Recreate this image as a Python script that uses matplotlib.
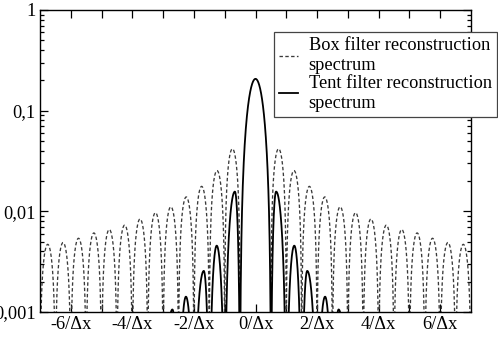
import matplotlib
matplotlib.use("Agg")
import matplotlib.pyplot as plt
import numpy as np
from matplotlib.ticker import FixedLocator, FixedFormatter, LogLocator, NullFormatter

# Box filter spectrum: lobes between zeros every 0.5/dx, peak heights
box_zeros_left = [0.5, 1.0, 1.5, 2.0, 2.5, 3.0, 3.5, 4.0, 4.5, 5.0, 5.5, 6.0, 6.5]
box_peak_x = [0.75, 1.25, 1.75, 2.25, 2.75, 3.25, 3.75, 4.25, 4.75, 5.25, 5.75, 6.25, 6.75]
box_peak_y = [0.0418, 0.0254, 0.0177, 0.0139, 0.0111, 0.0097, 0.0084,
              0.0073, 0.0066, 0.0061, 0.0054, 0.0049, 0.0047]

# Tent filter spectrum: main lobe + side lobes (left zero, peak x, right zero, peak y)
tent_main_peak = 0.207
tent_main_zero = 0.51
tent_left = [0.5, 1.0, 1.5, 2.0, 2.5]
tent_peak_x = [0.67, 1.26, 1.68, 2.26, 2.70]
tent_right = [1.0, 1.5, 2.0, 2.5, 3.0]
tent_peak_y = [0.0157, 0.00456, 0.00256, 0.00142, 0.00106]

tick_vals = [-6, -4, -2, 0, 2, 4, 6]
tick_labels = ["-6/Δx", "-4/Δx", "-2/Δx", "0/Δx", "2/Δx", "4/Δx", "6/Δx"]
ytick_vals = [0.001, 0.01, 0.1, 1]
ytick_labels = ["0,001", "0,01", "0,1", "1"]


def lobe(a, c, b, p, power, n=200):
    # arch between zeros a and b with its top at (c, p)
    x = np.linspace(a, b, n)
    t = np.where(x < c, 0.5 * (x - a) / (c - a), 0.5 + 0.5 * (x - c) / (b - c))
    return x, p * np.sin(np.pi * t) ** power


# build box curve
box_lobes = [(a, c, a + 0.5, p) for a, c, p in zip(box_zeros_left, box_peak_x, box_peak_y)]
bx, by = [], []
for a, c, b, p in box_lobes[::-1]:
    x, y = lobe(-b, -c, -a, p, 1)
    bx.append(x); by.append(y)
bx.append([np.nan]); by.append([np.nan])
for a, c, b, p in box_lobes:
    x, y = lobe(a, c, b, p, 1)
    bx.append(x); by.append(y)
bx = np.concatenate(bx); by = np.concatenate(by)

# build tent curve
tent_lobes = list(zip(tent_left, tent_peak_x, tent_right, tent_peak_y))
tx, ty = [], []
for a, c, b, p in tent_lobes[::-1]:
    x, y = lobe(-b, -c, -a, p, 2)
    tx.append(x); ty.append(y)
x, y = lobe(-tent_main_zero, 0.0, tent_main_zero, tent_main_peak, 2)
tx.append(x); ty.append(y)
for a, c, b, p in tent_lobes:
    x, y = lobe(a, c, b, p, 2)
    tx.append(x); ty.append(y)
tx = np.concatenate(tx); ty = np.concatenate(ty)

plt.rcParams['font.family'] = ['Liberation Serif', 'DejaVu Serif']

fig = plt.figure(figsize=(4.98, 3.37), dpi=100)
ax = fig.add_axes([40 / 498, 1 - 312 / 337, 431 / 498, 302 / 337])

ax.plot(bx, by, color='#3a3a3a', lw=0.95, dashes=[2.6, 1.8],
        label="Box filter reconstruction\nspectrum")
ax.plot(tx, ty, color='black', lw=1.3,
        label="Tent filter reconstruction\nspectrum")

ax.set_yscale('log')
ax.set_xlim(-7, 7)
ax.set_ylim(0.001, 1)

ax.xaxis.set_major_locator(FixedLocator(tick_vals))
ax.xaxis.set_major_formatter(FixedFormatter(tick_labels))
ax.xaxis.set_minor_locator(FixedLocator([-5, -3, -1, 1, 3, 5]))
ax.yaxis.set_major_locator(FixedLocator(ytick_vals))
ax.yaxis.set_major_formatter(FixedFormatter(ytick_labels))
ax.yaxis.set_minor_locator(LogLocator(base=10, subs=np.arange(2, 10)))
ax.yaxis.set_minor_formatter(NullFormatter())

ax.tick_params(which='both', direction='in', top=True, right=True, width=0.9,
               labelsize=13.2, pad=3)
ax.tick_params(which='major', length=5.5)
ax.tick_params(axis='x', which='minor', length=5.5)
ax.tick_params(axis='y', which='minor', length=3)
for s in ax.spines.values():
    s.set_linewidth(1.0)

leg = ax.legend(loc='upper right', bbox_to_anchor=(0.998, 1 - 32 / 337),
                bbox_transform=fig.transFigure, borderaxespad=0, fontsize=13.2,
                handlelength=1.0, handletextpad=0.6, borderpad=0.3,
                labelspacing=0.05, fancybox=False, framealpha=1)
leg.get_frame().set_edgecolor('#444444')
leg.get_frame().set_linewidth(0.9)

plt.savefig("out.png", dpi=100)
